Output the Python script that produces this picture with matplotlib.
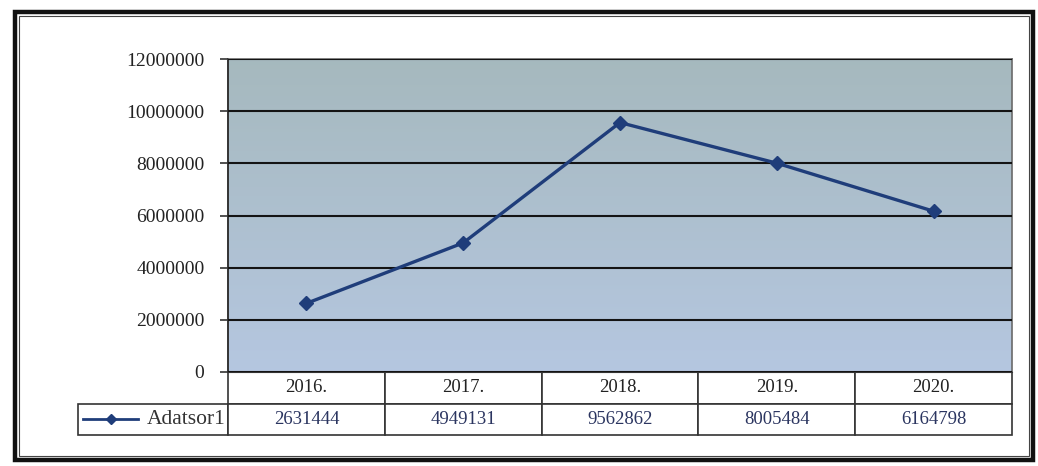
import numpy as np
import matplotlib
matplotlib.use("Agg")
import matplotlib.pyplot as plt
from matplotlib.lines import Line2D
from matplotlib.patches import Rectangle

# data
years = ["2016.", "2017.", "2018.", "2019.", "2020."]
values = [2631444, 4949131, 9562862, 8005484, 6164798]
series_name = "Adatsor1"
yticks = [0, 2000000, 4000000, 6000000, 8000000, 10000000, 12000000]

line_col = "#1f3d7a"
serif = ["Liberation Serif", "DejaVu Serif"]

fig = plt.figure(figsize=(10.38, 4.66), dpi=100)
fig.patch.set_facecolor("white")

W, H = 1038, 466
left, right, top, bottom = 228, 1012, 59, 372
ax = fig.add_axes([left / W, 1 - bottom / H, (right - left) / W, (bottom - top) / H])

# gradient background of the plot area
grad = np.linspace(0, 1, 256).reshape(-1, 1)
c_top = np.array([0.650, 0.725, 0.745])
c_bot = np.array([0.71, 0.78, 0.88])
img = c_bot + (c_top - c_bot) * grad[:, :, None] * np.ones((1, 2, 1))
ax.imshow(img, extent=[0, 1, 0, 1], transform=ax.transAxes, aspect="auto",
          origin="lower", zorder=0)

x = np.arange(len(years))
ax.set_xlim(-0.5, len(years) - 0.5)
ax.set_ylim(0, 12000000)
ax.set_yticks(yticks)
ax.set_yticklabels([str(v) for v in yticks], fontfamily=serif, fontsize=14, color="#222222")
ax.set_xticks([])
ax.tick_params(axis="y", length=6, width=1.2, color="#333333", pad=11)
ax.yaxis.grid(True, color="#141414", linewidth=1.5)
ax.set_axisbelow(False)
for s in ["top", "right"]:
    ax.spines[s].set_color("#6a6a6a")
    ax.spines[s].set_linewidth(1.2)
ax.spines["left"].set_color("#333333")
ax.spines["left"].set_linewidth(1.4)
ax.spines["bottom"].set_color("#333333")

ax.plot(x, values, color=line_col, linewidth=2.4, marker="D", markersize=7,
        markerfacecolor=line_col, markeredgecolor=line_col, zorder=3)

# data table under the plot
label_w = (left - 78) / (right - left)
th = (435 - bottom) / (bottom - top)
cell_text = [[""] + years, [series_name] + [str(v) for v in values]]
col_w = [label_w] + [1.0 / len(years)] * len(years)
tab = ax.table(cellText=cell_text, colWidths=col_w, cellLoc="center",
               bbox=[-label_w, -th, 1 + label_w, th])
tab.auto_set_font_size(False)
for (r, c), cell in tab.get_celld().items():
    cell.set_edgecolor("#333333")
    cell.set_linewidth(1.2)
    cell.set_facecolor("white")
    txt = cell.get_text()
    txt.set_fontfamily(serif)
    txt.set_fontsize(13.5)
    if r == 0:
        txt.set_color("#222222")
    else:
        txt.set_color("#2b3560")
    if r == 0 and c == 0:
        cell.visible_edges = ""
    if r == 1 and c == 0:
        txt.set_horizontalalignment("right")
        txt.set_color("#333333")
        txt.set_fontsize(15.5)
        cell.PAD = 0.015

# legend key inside the first cell
ky = -th * 0.75
x0 = -label_w + 0.006
x1 = -label_w + 0.077
ax.add_line(Line2D([x0, x1], [ky, ky], transform=ax.transAxes, color=line_col,
                   linewidth=2, clip_on=False))
ax.add_line(Line2D([(x0 + x1) / 2], [ky], transform=ax.transAxes, color=line_col,
                   marker="D", markersize=5, clip_on=False))

# double frame around the whole chart
fig.add_artist(Rectangle((15 / W, 1 - 460 / H), (1033 - 15) / W, (460 - 12) / H,
                         transform=fig.transFigure, fill=False, edgecolor="#111111",
                         linewidth=3.2))
fig.add_artist(Rectangle((19 / W, 1 - 456 / H), (1029 - 19) / W, (456 - 16) / H,
                         transform=fig.transFigure, fill=False, edgecolor="#444444",
                         linewidth=0.8))

fig.savefig("out.png", dpi=100)
